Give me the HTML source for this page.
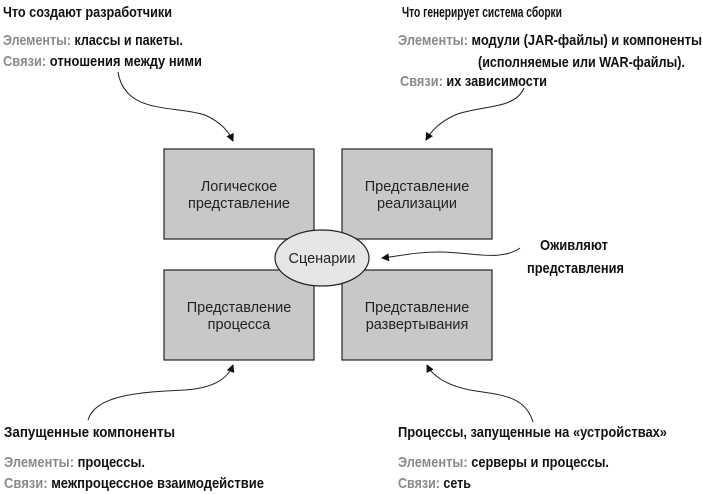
<!DOCTYPE html>
<html><head><meta charset="utf-8"><style>
html,body{margin:0;padding:0;background:#fff;}
svg{display:block;}
.b{font-family:"Liberation Sans Narrow","Liberation Sans",sans-serif;font-weight:bold;font-size:15px;fill:#111;}
.g{fill:#8a8a8a;}
.n{font-family:"Liberation Sans",sans-serif;font-size:14.5px;fill:#222;text-anchor:middle;}
</style></head><body>
<svg width="703" height="494" viewBox="0 0 703 494" xmlns="http://www.w3.org/2000/svg">
<defs><marker id="a" markerWidth="8" markerHeight="8" refX="7" refY="4" orient="auto" markerUnits="userSpaceOnUse"><path d="M0,0 L8,4 L0,8 z" fill="#111"/></marker></defs>
<g fill="#c8c8c8" stroke="#222" stroke-width="1.2">
<rect x="164" y="149" width="150" height="90"/>
<rect x="342" y="149" width="150" height="90"/>
<rect x="164" y="270" width="150" height="90"/>
<rect x="342" y="270" width="150" height="90"/>
<ellipse cx="322" cy="258" rx="47" ry="28" fill="#e6e6e6"/>
</g>
<text class="n" x="239" y="191">Логическое</text>
<text class="n" x="239" y="208">представление</text>
<text class="n" x="417" y="191">Представление</text>
<text class="n" x="417" y="208">реализации</text>
<text class="n" x="239" y="312">Представление</text>
<text class="n" x="239" y="329">процесса</text>
<text class="n" x="417" y="312">Представление</text>
<text class="n" x="417" y="329">развертывания</text>
<text class="n" x="322" y="263">Сценарии</text>
<g fill="none" stroke="#222" stroke-width="1">
<path d="M118,72 C125,115 175,105 205,115 C220,122 228,130 233,141" marker-end="url(#a)"/>
<path d="M524,88 C515,110 480,105 455,115 C440,122 432,130 426,140" marker-end="url(#a)"/>
<path d="M520,248 C500,262 470,252 440,252 C415,252 400,256 382,258" marker-end="url(#a)"/>
<path d="M88,420 C95,395 140,392 185,390 C215,388 228,378 233,365" marker-end="url(#a)"/>
<path d="M533,422 C525,395 500,395 470,390 C445,385 432,375 427,365" marker-end="url(#a)"/>
</g>
<text class="b" x="3" y="17" textLength="169" lengthAdjust="spacingAndGlyphs">Что создают разработчики</text>
<text class="b" x="3" y="45" textLength="180" lengthAdjust="spacingAndGlyphs"><tspan class="g">Элементы:</tspan> классы и пакеты.</text>
<text class="b" x="3" y="66" textLength="199" lengthAdjust="spacingAndGlyphs"><tspan class="g">Связи:</tspan> отношения между ними</text>
<text class="b" transform="translate(402,17) scale(0.68,1)" x="0" y="0">Что генерирует система сборки</text>
<text class="b" x="398" y="45" textLength="304" lengthAdjust="spacingAndGlyphs"><tspan class="g">Элементы:</tspan> модули (JAR-файлы) и компоненты</text>
<text class="b" x="478" y="67" textLength="207" lengthAdjust="spacingAndGlyphs">(исполняемые или WAR-файлы).</text>
<text class="b" x="400" y="86" textLength="147" lengthAdjust="spacingAndGlyphs"><tspan class="g">Связи:</tspan> их зависимости</text>
<text class="b" x="540" y="250" textLength="68" lengthAdjust="spacingAndGlyphs">Оживляют</text>
<text class="b" x="527" y="273" textLength="97" lengthAdjust="spacingAndGlyphs">представления</text>
<text class="b" x="4" y="437" textLength="171" lengthAdjust="spacingAndGlyphs">Запущенные компоненты</text>
<text class="b" x="4" y="467" textLength="141" lengthAdjust="spacingAndGlyphs"><tspan class="g">Элементы:</tspan> процессы.</text>
<text class="b" x="4" y="488" textLength="260" lengthAdjust="spacingAndGlyphs"><tspan class="g">Связи:</tspan> межпроцессное взаимодействие</text>
<text class="b" x="398" y="437" textLength="269" lengthAdjust="spacingAndGlyphs">Процессы, запущенные на «устройствах»</text>
<text class="b" x="398" y="467" textLength="211" lengthAdjust="spacingAndGlyphs"><tspan class="g">Элементы:</tspan> серверы и процессы.</text>
<text class="b" x="398" y="488" textLength="73" lengthAdjust="spacingAndGlyphs"><tspan class="g">Связи:</tspan> сеть</text>
</svg>
</body></html>
